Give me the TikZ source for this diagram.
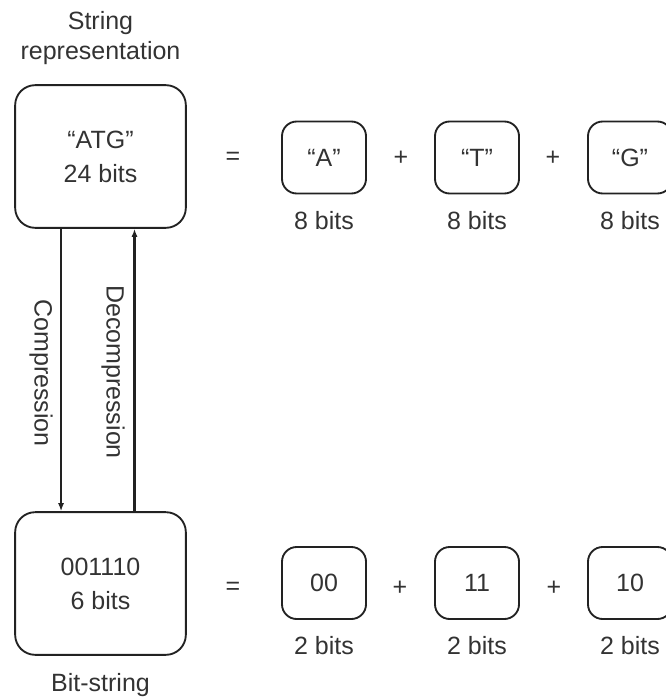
\documentclass[tikz,border=0pt]{standalone}
\usepackage{fontspec}
\setmainfont{Liberation Sans}
\usetikzlibrary{arrows.meta,positioning}
\definecolor{inkgray}{HTML}{333333}
\definecolor{linegray}{HTML}{222222}
\tikzset{
	bigbox/.style={draw=linegray, line width=1.4pt, rounded corners=15pt, minimum width=128pt, minimum height=107pt, align=center},
	smallbox/.style={draw=linegray, line width=1.4pt, rounded corners=11pt, minimum width=63pt, minimum height=54pt},
	flow/.style={-{Latex[length=6pt,width=4.5pt]}, line width=1.6pt, draw=linegray}
}

\begin{document}
\begin{tikzpicture}[x=0.75pt,y=-0.75pt, font=\fontsize{18.75}{25.5}\selectfont, text=inkgray]
		\useasboundingbox (0,0) rectangle (665,698);
		%\fill[lightgray] (0,0) rectangle (665,698);
		
		% left column
		\node[bigbox] (str) at (100.5,156.5) {“ATG”\\24 bits};
		\node[bigbox] (bits) at (100.5,583.5) {001110\\6 bits};
		\node[align=center, font=\fontsize{18.75}{22.5}\selectfont] (strlbl) at (100.5,38) {String\\representation};
		\node[below=10pt of bits] (bitslbl) {Bit-string};
		
		\draw[flow] ([xshift=-29.6pt]str.south) -- ([xshift=-29.6pt]bits.north);
		\draw[flow] ([xshift=25.5pt]bits.north) -- ([xshift=25.5pt]str.south);
		\node[rotate=-90] (cmp) at (41,373) {Compression};
		\node[rotate=-90] (dcmp) at (113,372) {Decompression};
		
		% top row
		\node (eqa) at (233,158) {=};
		\node[smallbox] (ca) at (324,157.5) {“A”};
		\node (pa1) at (401,158) {+};
		\node[smallbox] (ct) at (477,157.5) {“T”};
		\node (pa2) at (553,158) {+};
		\node[smallbox] (cg) at (630,157.5) {“G”};
		\node[below=9pt of ca] {8 bits};
		\node[below=9pt of ct] {8 bits};
		\node[below=9pt of cg] {8 bits};
		
		% bottom row
		\node (eqb) at (233,588) {=};
		\node[smallbox] (b00) at (324,583) {00};
		\node (pb1) at (400,588) {+};
		\node[smallbox] (b11) at (477,583) {11};
		\node (pb2) at (554,588) {+};
		\node[smallbox] (b10) at (630,583) {10};
		\node[below=9pt of b00] {2 bits};
		\node[below=9pt of b11] {2 bits};
		\node[below=9pt of b10] {2 bits};
	\end{tikzpicture}
\end{document}
